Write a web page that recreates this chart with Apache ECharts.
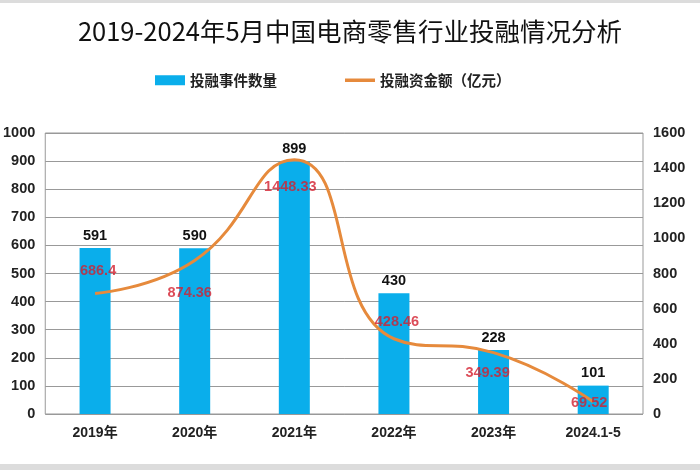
<!DOCTYPE html>
<html>
<head>
<meta charset="utf-8">
<title>中国电商零售行业投融情况</title>
<script src="https://cdn.jsdelivr.net/npm/echarts@6/dist/echarts.min.js"></script>
<style>
  html, body { margin: 0; padding: 0; background: #fff; }
  #chart { width: 700px; height: 470px; }
</style>
</head>
<body>
<div id="chart"></div>
<script>
// Data
const years = ['2019年', '2020年', '2021年', '2022年', '2023年', '2024.1-5'];
const eventCounts = [591, 590, 899, 430, 228, 101];
const fundAmounts = [686.4, 874.36, 1448.33, 428.46, 349.39, 69.52];

// where each amount label sits relative to its point (px)
const amountLabelOffsets = [[3, -22], [-5, 33], [-4, 27], [3, -17], [-6, 20], [-4, 1]];

const baseFont = "'Liberation Sans', 'Noto Sans CJK SC', sans-serif";
const lineColor = '#E68A3C';
const markerSize = 2;

function plainNumber(v) {
    return String(v);
}

const chart = echarts.init(document.getElementById('chart'));

const option = {
    backgroundColor: '#fff',
    textStyle: { fontFamily: baseFont },
    title: {
        text: '2019-2024年5月中国电商零售行业投融情况分析',
        left: 'center',
        top: 14,
        textStyle: {
            fontFamily: "'Noto Sans CJK SC', sans-serif",
            fontSize: 25.5,
            fontWeight: 'normal',
            color: '#111'
        }
    },
    legend: {
        top: 68,
        left: 150,
        itemGap: 68,
        itemWidth: 30,
        itemHeight: 10,
        textStyle: {
            fontFamily: "'Noto Sans CJK SC', sans-serif",
            fontSize: 14.5,
            fontWeight: 'bold',
            color: '#222'
        },
        data: [
            { name: '投融事件数量', icon: 'rect' },
            { name: '投融资金额（亿元）', icon: 'path://M0,0 L30,0 L30,3.5 L0,3.5 Z' }
        ]
    },
    grid: {
        left: 38,
        right: 57,
        top: 133,
        bottom: 56,
        show: true,
        borderColor: '#999',
        borderWidth: 1
    },
    xAxis: {
        type: 'category',
        data: years,
        axisLine: { show: false },
        axisTick: { show: false },
        axisLabel: {
            margin: 12,
            fontSize: 14,
            fontWeight: 'bold',
            color: '#222'
        }
    },
    yAxis: [{
        type: 'value',
        min: 0,
        max: 1000,
        interval: 100,
        axisLine: { show: false },
        axisTick: { show: false },
        splitLine: { lineStyle: { color: '#999', width: 1 } },
        axisLabel: { margin: 10, fontSize: 14.5, fontWeight: 'bold', color: '#222', formatter: plainNumber }
    }, {
        type: 'value',
        min: 0,
        max: 1600,
        interval: 200,
        axisLine: { show: false },
        axisTick: { show: false },
        splitLine: { show: false },
        axisLabel: { margin: 10, fontSize: 14.5, fontWeight: 'bold', color: '#222', formatter: plainNumber }
    }],
    series: [{
        name: '投融事件数量',
        type: 'bar',
        data: eventCounts,
        barWidth: 31,
        itemStyle: { color: '#0AAEEB' },
        label: {
            show: true,
            position: 'top',
            distance: 5,
            fontSize: 14.5,
            fontWeight: 'bold',
            color: '#111'
        }
    }, {
        name: '投融资金额（亿元）',
        type: 'line',
        yAxisIndex: 1,
        smooth: 0.5,
        symbol: 'none',
        lineStyle: { color: lineColor, width: 3 },
        itemStyle: { color: lineColor },
        data: fundAmounts,
        z: 5
    }, {
        // amount labels, placed around the line's points
        name: 'amountLabels',
        type: 'scatter',
        yAxisIndex: 1,
        symbolSize: markerSize,
        itemStyle: { color: 'rgba(0,0,0,0)' },
        silent: true,
        data: fundAmounts.map(function (v, i) {
            const off = amountLabelOffsets[i];
            return {
                value: v,
                label: {
                    show: true,
                    position: [markerSize / 2 + off[0], markerSize / 2 + off[1]],
                    align: 'center',
                    verticalAlign: 'middle'
                }
            };
        }),
        label: {
            show: true,
            fontSize: 14.5,
            fontWeight: 'bold',
            color: '#D31F2E'
        },
        labelLayout: { hideOverlap: false },
        z: 6
    }],
    graphic: [
        { type: 'rect', left: 0, top: 0, shape: { width: 700, height: 3 }, style: { fill: '#dcdcdc' } },
        { type: 'rect', left: 0, top: 464, shape: { width: 700, height: 6 }, style: { fill: '#dcdcdc' } }
    ]
};

chart.setOption(option);
</script>
</body>
</html>
